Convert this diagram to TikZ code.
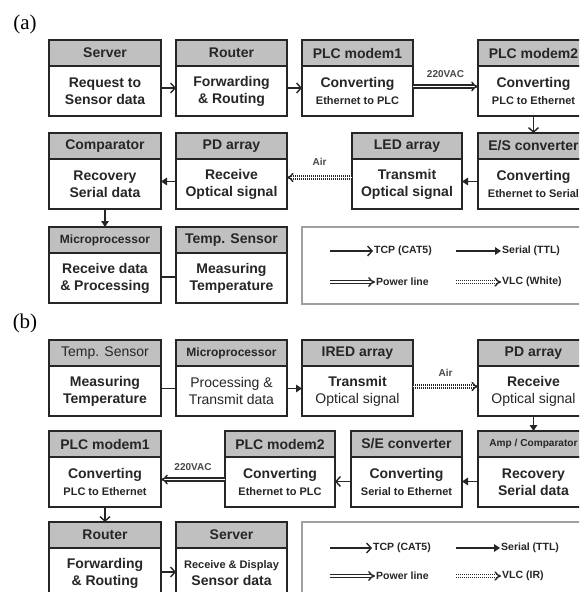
\documentclass[tikz,border=0pt]{standalone}
\usepackage{fontspec}
\setmainfont{Liberation Sans}
\newfontfamily\serifff{Liberation Serif}
\usetikzlibrary{arrows.meta}
\definecolor{hgray}{HTML}{C0C0C0}
\definecolor{bline}{HTML}{262626}
\definecolor{lgray}{HTML}{A0A0A0}
\definecolor{tgray}{HTML}{484848}
\newcommand\sm[1]{{\fontsize{11}{12.5}\selectfont #1}}
\newcommand\hsm[1]{{\fontsize{12}{13}\selectfont #1}}
\newcommand\xsm[1]{{\fontsize{10.1}{12}\selectfont #1}}
\newcommand\rg[1]{{\mdseries #1}}
\newcommand\blk[6]{%
  \node[hdr, minimum width=#4pt, anchor=north west] (#1h) at (#2,#3) {#5};
  \node[bdy, minimum width=#4pt, anchor=north] (#1) at (#1h.south) {#6};}
\begin{document}
\begin{tikzpicture}[x=1pt,y=-1pt,
  hdr/.style={draw=bline, line width=1.8pt, fill=hgray, minimum height=26pt, inner sep=0pt, outer sep=0pt, text=bline, font=\bfseries\fontsize{14}{15}\selectfont},
  bdy/.style={draw=bline, line width=1.8pt, fill=white, minimum height=50pt, inner sep=0pt, outer sep=0pt, align=center, text=bline, font=\bfseries\fontsize{14}{17}\selectfont},
  tcp/.style={draw=bline, line width=1.4pt, -{Straight Barb[length=4.5pt,width=10pt]}},
  ser/.style={draw=bline, line width=1.4pt, -{Triangle[length=6pt,width=7.5pt]}},
  pwr/.style={draw=bline, line width=1.4pt, double=white, double distance=1.8pt, -{Implies[scale=1.3]}},
  vlc/.style={draw=bline, line width=1.4pt, double=white, double distance=1.6pt, dash pattern=on 1.1pt off 0.9pt, -{Implies[scale=1.3]}},
  pln/.style={draw=bline, line width=1.4pt},
  lab/.style={text=tgray, font=\bfseries\fontsize{10}{11}\selectfont, inner sep=1pt},
  leg/.style={text=bline, font=\bfseries\fontsize{10.5}{12}\selectfont, inner sep=1pt, anchor=west},
  legbox/.style={draw=lgray, line width=1.5pt},
  tag/.style={font=\serifff\fontsize{21}{23}\selectfont, inner sep=0pt}]
\useasboundingbox (0,0) rectangle (579,592);
\clip (0,0) rectangle (579,592);
\fill[white] (0,0) rectangle (579,592);

% ---------------- (a) ----------------
\node[tag] (ta) at (25,24) {(a)};
\blk{as}{49}{40}{112}{Server}{Request to\\Sensor data}
\blk{ar}{176}{40}{111}{Router}{Forwarding\\\& Routing}
\blk{apa}{302}{40}{111}{PLC modem1}{Converting\\\sm{Ethernet to PLC}}
\blk{apb}{478}{40}{111}{PLC modem2}{Converting\\\sm{PLC to Ethernet}}
\blk{aes}{478}{133}{111}{E/S converter}{Converting\\\sm{Ethernet to Serial}}
\blk{aled}{352}{133}{110}{LED array}{Transmit\\Optical signal}
\blk{apd}{176}{133}{111}{PD array}{Receive\\Optical signal}
\blk{acmp}{49}{133}{112}{Comparator}{Recovery\\Serial data}
\blk{amcu}{49}{227}{112}{\hsm{Microprocessor}}{Receive data\\\& Processing}
\blk{atmp}{176}{227}{111}{Temp. Sensor}{Measuring\\Temperature}

\draw[tcp] ([yshift=3pt]as.east) -- ([yshift=3pt]ar.west);
\draw[tcp] ([yshift=3pt]ar.east) -- ([yshift=3pt]apa.west);
\draw[pwr] ([yshift=4.5pt]apa.east) -- node[lab, above, yshift=7pt] {220VAC} ([yshift=4.5pt]apb.west);
\draw[tcp] (apb.south) -- (aesh.north);
\draw[ser] ([yshift=2.5pt]aes.west) -- ([yshift=2.5pt]aled.east);
\draw[vlc] ([yshift=6.5pt]aled.west) -- node[lab, above, yshift=10pt] {Air} ([yshift=6.5pt]apd.east);
\draw[ser] ([yshift=2.5pt]apd.west) -- ([yshift=2.5pt]acmp.east);
\draw[ser] (acmp.south) -- (amcuh.north);
\draw[pln] ([yshift=1pt]atmp.west) -- ([yshift=1pt]amcu.east);

\draw[legbox] (302,227) rectangle (595,304);
\coordinate (la1s) at (330,251);
\coordinate (la2s) at (456,251);
\coordinate (la3s) at (330,282);
\coordinate (la4s) at (456,282);
\node[leg] (la1) at (373,251) {TCP (CAT5)};
\node[leg] (la2) at (501,251) {Serial (TTL)};
\node[leg] (la3) at (375,282) {Power line};
\node[leg] (la4) at (501,282) {VLC (White)};
\draw[tcp] (la1s) -- (la1.west);
\draw[ser] (la2s) -- (la2.west);
\draw[pwr] (la3s) -- (la3.west);
\draw[vlc] (la4s) -- (la4.west);

% ---------------- (b) ----------------
\node[tag] (tb) at (25,323) {(b)};
\blk{btmp}{49}{340}{112}{\rg{Temp. Sensor}}{Measuring\\Temperature}
\blk{bmcu}{176}{340}{111}{\hsm{Microprocessor}}{\rg{Processing \&}\\\rg{Transmit data}}
\blk{bir}{302}{340}{111}{IRED array}{Transmit\\\rg{Optical signal}}
\blk{bpd}{478}{340}{111}{PD array}{Receive\\\rg{Optical signal}}
\blk{bamp}{478}{431}{111}{\xsm{Amp / Comparator}}{Recovery\\Serial data}
\blk{bse}{351}{431}{111}{S/E converter}{Converting\\\sm{Serial to Ethernet}}
\blk{bpb}{225}{431}{110}{PLC modem2}{Converting\\\sm{Ethernet to PLC}}
\blk{bpa}{49}{431}{112}{PLC modem1}{Converting\\\sm{PLC to Ethernet}}
\blk{brt}{49}{522}{112}{Router}{Forwarding\\\& Routing}
\blk{bsv}{176}{522}{111}{Server}{\sm{Receive \& Display}\\Sensor data}

\draw[pln] ([yshift=2.5pt]btmp.east) -- ([yshift=2.5pt]bmcu.west);
\draw[ser] ([yshift=2.5pt]bmcu.east) -- ([yshift=2.5pt]bir.west);
\draw[vlc] ([yshift=4.5pt]bir.east) -- node[lab, above, yshift=8pt] {Air} ([yshift=4.5pt]bpd.west);
\draw[ser] (bpd.south) -- (bamph.north);
\draw[ser] ([yshift=0.5pt]bamp.west) -- ([yshift=0.5pt]bse.east);
\draw[tcp] ([yshift=0.5pt]bse.west) -- ([yshift=0.5pt]bpb.east);
\draw[pwr] ([yshift=2.5pt]bpb.west) -- node[lab, above, yshift=7pt] {220VAC} ([yshift=2.5pt]bpa.east);
\draw[tcp] (bpa.south) -- (brth.north);
\draw[tcp] ([yshift=1pt]brt.east) -- ([yshift=1pt]bsv.west);

\draw[legbox] (302,522) rectangle (595,600);
\coordinate (lb1s) at (330,548);
\coordinate (lb2s) at (456,548);
\coordinate (lb3s) at (330,576);
\coordinate (lb4s) at (456,576);
\node[leg] (lb1) at (372,548) {TCP (CAT5)};
\node[leg] (lb2) at (500,548) {Serial (TTL)};
\node[leg] (lb3) at (375,576) {Power line};
\node[leg] (lb4) at (501,576) {VLC (IR)};
\draw[tcp] (lb1s) -- (lb1.west);
\draw[ser] (lb2s) -- (lb2.west);
\draw[pwr] (lb3s) -- (lb3.west);
\draw[vlc] (lb4s) -- (lb4.west);
\end{tikzpicture}
\end{document}
